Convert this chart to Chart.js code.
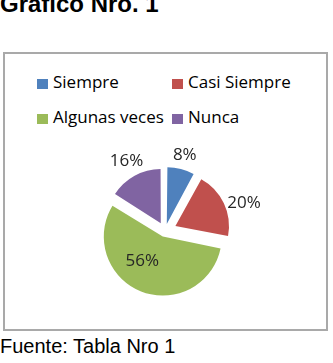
<!DOCTYPE html>
<html>
<head>
<meta charset="utf-8">
<script src="https://cdn.jsdelivr.net/npm/chart.js@4.4.0/dist/chart.umd.min.js"></script>
<style>
    body { margin: 0; width: 333px; height: 363px; background: #fff; position: relative; overflow: hidden; }
    .title { position: absolute; left: 0; top: -8px; font: bold 24px/24px "Liberation Sans", Arial, sans-serif; color: #000; white-space: nowrap; }
    .box { position: absolute; left: 3px; top: 52px; width: 321px; height: 275px; border: 2px solid #a9a9a9; }
    .source { position: absolute; left: 0; top: 336px; font: 20px/20px "Liberation Sans", Arial, sans-serif; color: #000; white-space: nowrap; }
    .legend-item { position: absolute; font: 17px/17px "Open Sans", sans-serif; color: #000; white-space: nowrap; }
    .legend-item span.sw { position: absolute; width: 11px; height: 10px; }
    canvas { position: absolute; left: 65px; top: 131px; }
</style>
</head>
<body>
<div class="title">Gráfico Nro. 1</div>
<div class="box"></div>
<div id="legend"></div>
<canvas id="myChart" width="200" height="200"></canvas>
<div class="source">Fuente: Tabla Nro 1</div>

<script>
// chart data
let labels = ["Siempre", "Casi Siempre", "Algunas veces", "Nunca"];
let values = [8, 20, 56, 16];
let colors = ["#4f81bd", "#c0504d", "#9bbb59", "#8064a2"];

// explode distance of each slice and where its % label goes
let sliceOffset = [29, 46, 24, 35];
let labelRadius = [1.50, 1.59, 0.69, 1.53];
let labelTurn = [0, 5, 17, 0.5];

// legend in two columns
let legendCols = [37, 172];
let legendRows = [73, 108];
let legend = document.getElementById('legend');
for (let i = 0; i < labels.length; i++) {
    let x = legendCols[i % 2];
    let y = legendRows[Math.floor(i / 2)];
    let item = document.createElement('div');
    item.className = 'legend-item';
    item.style.left = x + 'px';
    item.style.top = y + 'px';
    item.innerHTML = `<span class="sw" style="left:0;top:6px;background:${colors[i]}"></span>` +
        `<span style="position:absolute;left:16px;top:0">${labels[i]}</span>`;
    legend.appendChild(item);
}

// draws the percentage next to each slice
const percentLabels = {
    id: 'percentLabels',
    afterDatasetsDraw(chart) {
        let ctx = chart.ctx;
        let arcs = chart.getDatasetMeta(0).data;
        ctx.save();
        ctx.font = '17px "Open Sans", sans-serif';
        ctx.fillStyle = '#262626';
        ctx.textAlign = 'center';
        ctx.textBaseline = 'alphabetic';
        arcs.forEach((arc, i) => {
            let mid = (arc.startAngle + arc.endAngle) / 2 + labelTurn[i] * Math.PI / 180;
            let r = arc.outerRadius * labelRadius[i];
            let x = arc.x + Math.cos(mid) * r;
            let y = arc.y + Math.sin(mid) * r;
            ctx.fillText(values[i] + '%', x, y + 6);
        });
        ctx.restore();
    }
};

let ctx = document.getElementById('myChart').getContext('2d');
let myChart = new Chart(ctx, {
    type: 'pie',
    data: {
        labels: labels,
        datasets: [{
            data: values,
            backgroundColor: colors,
            borderWidth: 0,
            offset: sliceOffset
        }]
    },
    options: {
        responsive: false,
        animation: false,
        radius: 53,
        layout: { padding: 0 },
        plugins: {
            legend: { display: false },
            tooltip: { enabled: false }
        }
    },
    plugins: [percentLabels]
});
</script>
</body>
</html>
